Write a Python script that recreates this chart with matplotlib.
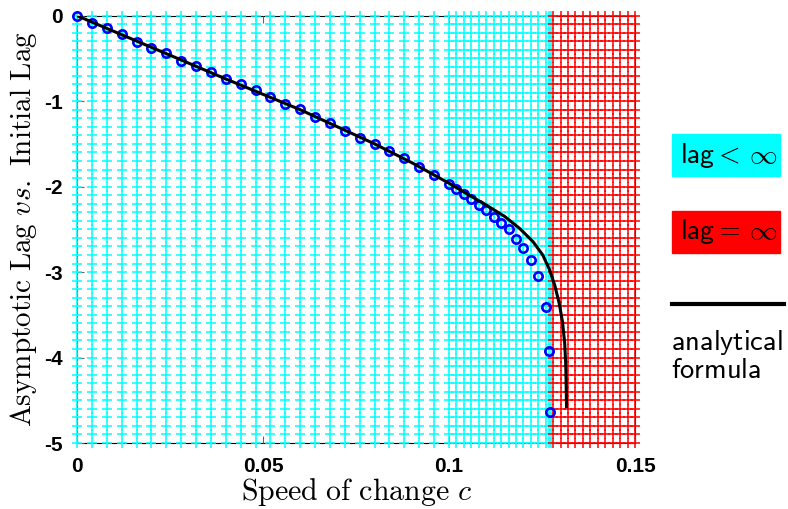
import numpy as np
import matplotlib.pyplot as plt
from matplotlib.patches import Rectangle

plt.rcParams['mathtext.fontset'] = 'cm'
plt.rcParams['axes.unicode_minus'] = False

# numerical results (open circles)
c_num = [0, 0.004, 0.008, 0.012, 0.016, 0.020, 0.024, 0.028, 0.032, 0.036,
         0.040, 0.044, 0.048, 0.052, 0.056, 0.060, 0.064, 0.068, 0.072, 0.076,
         0.080, 0.084, 0.088, 0.092, 0.096, 0.100, 0.102, 0.104, 0.106, 0.108,
         0.110, 0.112, 0.114, 0.116, 0.118, 0.120, 0.122, 0.124, 0.126, 0.1269,
         0.1271]
lag_num = [0, -0.089, -0.147, -0.218, -0.311, -0.38, -0.433, -0.53, -0.585, -0.655,
           -0.74, -0.80, -0.873, -0.955, -1.033, -1.095, -1.18, -1.25, -1.345, -1.43,
           -1.50, -1.58, -1.67, -1.77, -1.865, -1.965, -2.03, -2.09, -2.15, -2.21,
           -2.27, -2.35, -2.42, -2.50, -2.61, -2.72, -2.86, -3.05, -3.41, -3.92,
           -4.64]

# analytical formula (black line)
c_ana = [0, 0.02, 0.04, 0.06, 0.08, 0.09, 0.1, 0.105, 0.11, 0.115, 0.119,
         0.1226, 0.1252, 0.127, 0.1284, 0.1296, 0.1305, 0.1311, 0.1314, 0.1316]
lag_ana = [0, -0.37, -0.74, -1.10, -1.50, -1.72, -1.96, -2.09, -2.215, -2.35, -2.49,
           -2.645, -2.80, -2.97, -3.15, -3.36, -3.58, -3.83, -4.10, -4.575]

# parameter sweep: finite lag (cyan) / infinite lag (red)
c_finite = [0, 0.004, 0.008, 0.012, 0.016, 0.020, 0.024, 0.028, 0.032, 0.036,
            0.040, 0.044, 0.048, 0.052, 0.056, 0.060, 0.064, 0.068, 0.072, 0.076,
            0.080, 0.084, 0.088, 0.092, 0.096, 0.100, 0.102, 0.104, 0.106, 0.108,
            0.110, 0.112, 0.114, 0.116, 0.118, 0.120, 0.122, 0.124, 0.126, 0.127,
            0.1275]
c_infinite = [0.128, 0.130, 0.132, 0.134, 0.136, 0.138, 0.140, 0.142, 0.144,
              0.146, 0.148, 0.150]
lag_grid = np.round(np.arange(0, -5.05, -0.1), 1)

xticks = [0, 0.05, 0.1, 0.15]
xticklabels = ['0', '0.05', '0.1', '0.15']
yticks = [0, -1, -2, -3, -4, -5]

fig = plt.figure(figsize=(7.88, 5.09), dpi=100)
ax = fig.add_axes([77/788, 66/509, 558/788, 427.3/509])

for cols, col in [(c_finite, '#00ffff'), (c_infinite, '#ff0000')]:
    X, Y = np.meshgrid(cols, lag_grid)
    ax.plot(X.ravel(), Y.ravel(), '+', color=col, ms=7.4, mew=1.1,
            ls='none', clip_on=False, zorder=3)

ax.plot(c_num, lag_num, 'o', mfc='none', mec='#0000ff', ms=6, mew=1.9,
        clip_on=False, zorder=4)
ax.plot(c_ana, lag_ana, '-', color='k', lw=2.2, zorder=5)

ax.set_xlim(0, 0.15)
ax.set_ylim(-5, 0)
ax.set_xticks(xticks)
ax.set_xticklabels(xticklabels)
ax.set_yticks(yticks)
ax.tick_params(direction='in', length=5, width=0.8, color='0.4',
               top=True, right=True, pad=10)
for lab in ax.get_xticklabels() + ax.get_yticklabels():
    lab.set_fontfamily('Liberation Sans')
    lab.set_fontweight('bold')
    lab.set_fontsize(15)
for s in ax.spines.values():
    s.set_zorder(1)
    s.set_linewidth(0.8)

ax.set_xlabel(r'$\mathrm{Speed\ of\ change}\ c$', fontsize=21.5, labelpad=0)
ax.set_ylabel(r'$\mathrm{Asymptotic\ Lag}\ vs.\ \mathrm{Initial\ Lag}$',
              fontsize=21, labelpad=4)

# legend on the right
fig.patches.append(Rectangle((672/788, 1-176/509), 108/788, 42/509,
                             transform=fig.transFigure, color='#00ffff'))
fig.patches.append(Rectangle((672/788, 1-253/509), 108/788, 42/509,
                             transform=fig.transFigure, color='#ff0000'))
fig.text(680/788, 1-155/509, r'$\mathsf{lag}{<}\,\infty$', fontsize=20, va='center')
fig.text(680/788, 1-232/509, r'$\mathsf{lag}{=}\,\infty$', fontsize=20, va='center')
fig.lines.append(plt.Line2D([672/788, 784/788], [1-304/509, 1-304/509],
                            transform=fig.transFigure, color='k', lw=3))
fig.text(671/788, 1-350/509, r'$\mathsf{analytical}$', fontsize=20.5, va='baseline')
fig.text(671/788, 1-378/509, r'$\mathsf{formula}$', fontsize=20.5, va='baseline')

fig.savefig('out.png', dpi=100)
